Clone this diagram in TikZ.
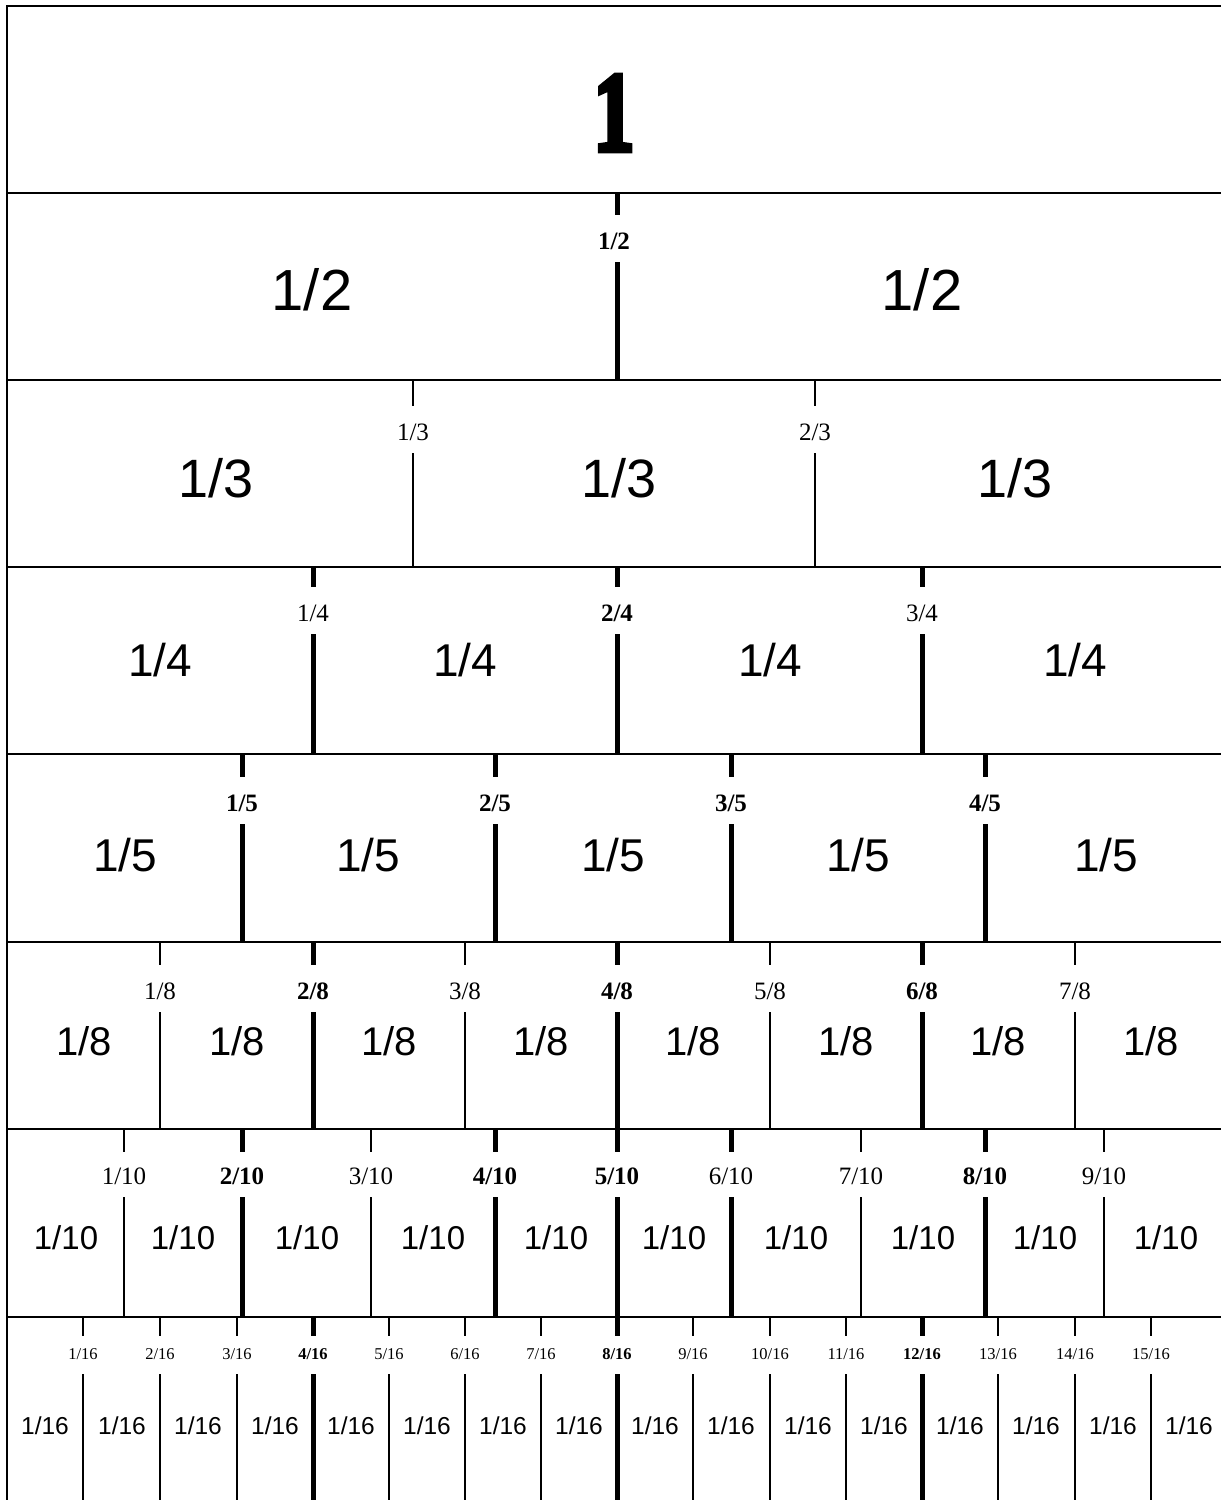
\documentclass[tikz,border=0pt]{standalone}
\usepackage{fontspec}
\setmainfont{Liberation Serif}
\newfontfamily\sansf{Liberation Sans}
\newfontfamily\heavyf[FakeBold=5]{Liberation Serif Bold}
\begin{document}
\begin{tikzpicture}[x=1pt,y=-1pt,
  tk/.style={line width=5pt},
  tn/.style={line width=1.2pt},
  rowline/.style={line width=2pt},
  lb/.style={inner sep=0pt,font=\fontsize{25}{25}\selectfont\bfseries},
  ln/.style={inner sep=0pt,font=\fontsize{25}{25}\selectfont},
  sb/.style={inner sep=0pt,font=\fontsize{16.5}{16.5}\selectfont\bfseries},
  sn/.style={inner sep=0pt,font=\fontsize{16.5}{16.5}\selectfont},
  big/.style={inner sep=0pt,font=\sansf\fontsize{#1}{#1}\selectfont}]
\useasboundingbox (0,0) rectangle (1221,1500);
\fill[white] (0,0) rectangle (1221,1500);
% frame and row lines
\draw[rowline] (7,6) -- (7,1500);
\foreach \y in {6,193,380,567,754,942,1129,1317}
  \draw[rowline] (6,\y) -- (1221,\y);
% row 1
\node[inner sep=0pt,font=\heavyf\fontsize{114}{114}\selectfont] (one) at (614,113) {\scalebox{0.72}[1]{1}};
% row 2
\foreach \x in {312,922} \node[big=58] at (\x,290) {1/2};
\node[lb] (h1) at (614,241) {1/2};
\draw[tk] (617,193) -- (617,215);
\draw[tk] (617,262) -- (617,380);
% row 3
\foreach \x in {216,619,1015} \node[big=54] at (\x,478) {1/3};
\foreach \x/\n [count=\i] in {413/1,815/2}{
  \node[ln] (t\i) at (\x,432) {\n/3};
  \draw[tn] (\x,380) -- (\x,406);
  \draw[tn] (\x,453) -- (\x,567);
}
% row 4
\foreach \x in {160,465,770,1075} \node[big=46] at (\x,660) {1/4};
\foreach \x/\n/\s/\f [count=\i] in {313/1/tk/ln,617/2/tk/lb,922/3/tk/ln}{
  \node[\f] (q\i) at (\x,613) {\n/4};
  \draw[\s] (\x,567) -- (\x,587);
  \draw[\s] (\x,634) -- (\x,754);
}
% row 5
\foreach \x in {125,368,613,858,1106} \node[big=46] at (\x,855) {1/5};
\foreach \x/\n/\s/\f [count=\i] in {242/1/tk/lb,495/2/tk/lb,731/3/tk/lb,985/4/tk/lb}{
  \node[\f] (f\i) at (\x,803) {\n/5};
  \draw[\s] (\x,754) -- (\x,777);
  \draw[\s] (\x,824) -- (\x,942);
}
% row 6
\foreach \x in {84,237,389,541,693,846,998,1151} \node[big=40] at (\x,1041) {1/8};
\foreach \x/\n/\s/\f [count=\i] in {160/1/tn/ln,313/2/tk/lb,465/3/tn/ln,617/4/tk/lb,770/5/tn/ln,922/6/tk/lb,1075/7/tn/ln}{
  \node[\f] (e\i) at (\x,991) {\n/8};
  \draw[\s] (\x,942) -- (\x,965);
  \draw[\s] (\x,1012) -- (\x,1129);
}
% row 7
\foreach \x in {66,183,307,433,556,674,796,923,1045,1166} \node[big=33] at (\x,1238) {1/10};
\foreach \x/\n/\s/\f [count=\i] in {124/1/tn/ln,242/2/tk/lb,371/3/tn/ln,495/4/tk/lb,617/5/tk/lb,731/6/tk/ln,861/7/tn/ln,985/8/tk/lb,1104/9/tn/ln}{
  \node[\f] (d\i) at (\x,1176) {\n/10};
  \draw[\s] (\x,1129) -- (\x,1152);
  \draw[\s] (\x,1197) -- (\x,1317);
}
% row 8
\foreach \x in {45,122,198,275,351,427,503,579,655,731,808,884,960,1036,1113,1189} \node[big=24.5] at (\x,1426) {1/16};
\foreach \x/\n/\s/\f [count=\i] in {83/1/tn/sn,160/2/tn/sn,237/3/tn/sn,313/4/tk/sb,389/5/tn/sn,465/6/tn/sn,541/7/tn/sn,617/8/tk/sb,693/9/tn/sn,770/10/tn/sn,846/11/tn/sn,922/12/tk/sb,998/13/tn/sn,1075/14/tn/sn,1151/15/tn/sn}{
  \node[\f] (s\i) at (\x,1354) {\n/16};
  \draw[\s] (\x,1317) -- (\x,1336);
  \draw[\s] (\x,1374) -- (\x,1504);
}
\end{tikzpicture}
\end{document}
